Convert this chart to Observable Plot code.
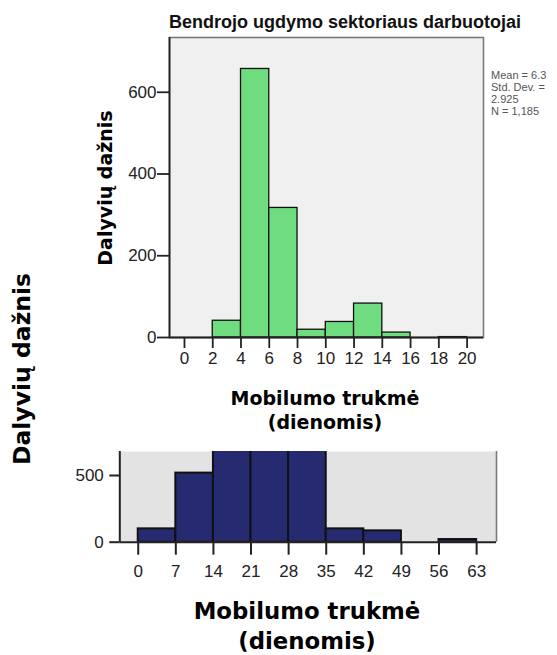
<!DOCTYPE html>
<html><head><meta charset="utf-8">
<script src="https://cdn.jsdelivr.net/npm/d3@7"></script>
<script src="https://cdn.jsdelivr.net/npm/@observablehq/plot@0.6"></script>
<style>
body{margin:0;background:#fff;}
#wrap{position:relative;width:557px;height:655px;overflow:hidden;font-family:"Liberation Sans",Arial,sans-serif;background:#fff;}
#wrap svg{position:absolute;left:0;}
.abs{position:absolute;white-space:nowrap;line-height:1;}
.lbl{font-family:"DejaVu Sans",sans-serif;font-weight:700;color:#000;text-align:center;}
</style></head><body><div id="wrap"></div>
<script>
// ---- texts ----
const topTitle = "Bendrojo ugdymo sektoriaus darbuotojai";
const yLabel = "Dalyvių dažnis";
const xLabel1 = "Mobilumo trukmė";
const xLabel2 = "(dienomis)";
const statsLines = ["Mean = 6.3", "Std. Dev. =", "2.925", "N = 1,185"];

// ---- top histogram (green) ----
const topBinLo = [2, 4, 6, 8, 10, 12, 14, 18];
const topBinHi = [4, 6, 8, 10, 12, 14, 16, 20];
const topCounts = [41, 657, 317, 19, 38, 83, 12, 1];
const topXTicks = [0, 2, 4, 6, 8, 10, 12, 14, 16, 18, 20];
const topYTicks = [0, 200, 400, 600];
const topXDomain = [-1.06, 21.16];
const topYDomain = [0, 734];

// ---- bottom histogram (navy, cropped at top) ----
const botBinLo = [0, 7, 14, 21, 28, 35, 42, 56];
const botBinHi = [7, 14, 21, 28, 35, 42, 49, 63];
const botCounts = [100, 518, 950, 1100, 880, 100, 85, 20];
const botXTicks = [0, 7, 14, 21, 28, 35, 42, 49, 56, 63];
const botYTicks = [0, 500];
const botXDomain = [-3.43, 66.7];
const botYDomain = [0, 680];

const topData = topCounts.map((c, i) => ({lo: topBinLo[i], hi: topBinHi[i], n: c}));
const botData = botCounts.map((c, i) => ({lo: botBinLo[i], hi: botBinHi[i], n: c}));

const wrap = document.getElementById("wrap");

const topPlot = Plot.plot({
  width: 557, height: 380,
  marginLeft: 169, marginRight: 74, marginTop: 37, marginBottom: 43,
  style: {fontFamily: "'Liberation Sans', Arial, sans-serif", fontSize: "17px", color: "#222", background: "transparent", overflow: "visible"},
  x: {domain: topXDomain},
  y: {domain: topYDomain},
  marks: [
    Plot.frame({fill: "#f0f0f0", stroke: "#7a7a7a", strokeWidth: 1.6}),
    Plot.rectY(topData, {x1: "lo", x2: "hi", y: "n", fill: "#70dc80", stroke: "#111", strokeWidth: 1.3, clip: true}),
    Plot.ruleY([topYDomain[0]], {stroke: "#222", strokeWidth: 1.8}),
    Plot.ruleX([topXDomain[0]], {stroke: "#222", strokeWidth: 1.8}),
    Plot.axisX({ticks: topXTicks, tickSize: 11, tickPadding: 3, label: null, strokeWidth: 1.8, fontSize: 17}),
    Plot.axisY({ticks: topYTicks, tickSize: 12, tickPadding: 1, label: null, strokeWidth: 1.8, fontSize: 17})
  ]
});
topPlot.style.top = "0px";
wrap.appendChild(topPlot);

const botPlot = Plot.plot({
  width: 557, height: 150,
  marginLeft: 119.3, marginRight: 61, marginTop: 11, marginBottom: 48.3,
  style: {fontFamily: "'Liberation Sans', Arial, sans-serif", fontSize: "17px", color: "#222", background: "transparent", overflow: "visible"},
  x: {domain: botXDomain},
  y: {domain: botYDomain},
  marks: [
    Plot.frame({fill: "#e3e3e3", stroke: null}),
    Plot.rectY(botData, {x1: "lo", x2: "hi", y: "n", fill: "#262a70", stroke: "#111", strokeWidth: 2, clip: true}),
    Plot.ruleX([botXDomain[1]], {stroke: "#7a7a7a", strokeWidth: 1.6}),
    Plot.ruleY([botYDomain[0]], {stroke: "#222", strokeWidth: 2}),
    Plot.ruleX([botXDomain[0]], {stroke: "#222", strokeWidth: 2}),
    Plot.axisX({ticks: botXTicks, tickSize: 13, tickPadding: 10, label: null, strokeWidth: 2, fontSize: 17}),
    Plot.axisY({ticks: botYTicks, tickSize: 10, tickPadding: 6, label: null, strokeWidth: 2, fontSize: 17})
  ]
});
botPlot.style.top = "440px";
wrap.appendChild(botPlot);

function addText(lines, cls, css) {
  const d = document.createElement("div");
  d.className = "abs " + cls;
  lines.forEach((t, i) => {
    if (i) d.appendChild(document.createElement("br"));
    d.appendChild(document.createTextNode(t));
  });
  Object.assign(d.style, css);
  wrap.appendChild(d);
  return d;
}
// top chart texts
addText([topTitle], "", {left: "345px", top: "22px", fontWeight: "700", fontSize: "18px", transform: "translate(-50%,-50%)", color: "#111"});
addText([yLabel], "lbl", {left: "105px", top: "188px", fontSize: "19px", transform: "translate(-50%,-50%) rotate(-90deg)"});
addText([xLabel1, xLabel2], "lbl", {left: "325px", top: "410px", fontSize: "19px", lineHeight: "24px", transform: "translate(-50%,-50%)"});
addText(statsLines, "", {left: "491px", top: "69px", fontSize: "11px", lineHeight: "12px", color: "#555"});
// bottom chart texts
addText([yLabel], "lbl", {left: "23px", top: "369px", fontSize: "23.5px", transform: "translate(-50%,-50%) rotate(-90deg)"});
addText([xLabel1, xLabel2], "lbl", {left: "307px", top: "626px", fontSize: "22.8px", lineHeight: "30px", transform: "translate(-50%,-50%)"});
</script></body></html>
